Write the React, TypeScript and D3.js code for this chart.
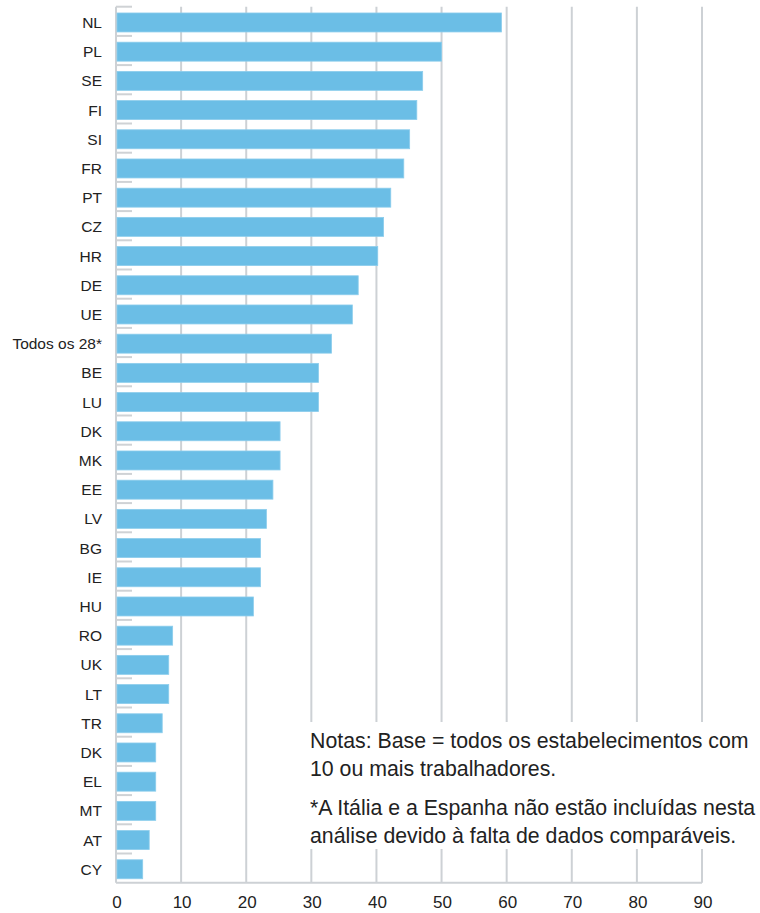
import React from "react";
import * as d3 from "d3";

const categories = ["NL","PL","SE","FI","SI","FR","PT","CZ","HR","DE","UE","Todos os 28*","BE","LU","DK","MK","EE","LV","BG","IE","HU","RO","UK","LT","TR","DK","EL","MT","AT","CY"];
const values = [59.2,50,47.1,46.2,45.1,44.2,42.2,41.1,40.2,37.2,36.3,33.1,31.1,31.1,25.2,25.2,24.1,23.1,22.2,22.2,21.1,8.7,8.1,8.1,7.1,6.1,6.1,6.1,5.1,4.1];
const xTicks = [0,10,20,30,40,50,60,70,80,90];
const noteLines = [
  "Notas: Base = todos os estabelecimentos com",
  "10 ou mais trabalhadores.",
  "*A Itália e a Espanha não estão incluídas nesta",
  "análise devido à falta de dados comparáveis.",
];

export default function App() {
  const W = 760, H = 913;
  const x = d3.scaleLinear().domain([0, 90]).range([116, 702]);
  const idx = categories.map((_, i) => i);
  const y = d3.scaleBand<number>().domain(idx).range([6.7, 882.7]).paddingInner(0).paddingOuter(0);
  const bw = y.bandwidth();
  const font = "'Liberation Sans', Arial, Helvetica, sans-serif";
  const grid = "#cdd1d5";
  const noteY = [748, 776, 815, 843];
  return (
    <svg width={W} height={H} style={{ position: "absolute", left: 0, top: 0, background: "#fff" }} fontFamily={font}>
      {xTicks.map((t) => (
        <line key={"g" + t} x1={x(t)} x2={x(t)} y1={6.7} y2={882.7} stroke={grid} strokeWidth={2} />
      ))}
      <line x1={x(0)} x2={x(90)} y1={882.7} y2={882.7} stroke={grid} strokeWidth={2} />
      {idx.map((i) => (
        <line key={"m" + i} x1={x(0)} x2={x(0) + 16} y1={(y(i) as number)} y2={(y(i) as number)} stroke="#cfd2d5" strokeWidth={2} />
      ))}
      {idx.map((i) => (
        <rect key={"b" + i} x={x(0) + 1} y={(y(i) as number) + bw * 0.215} width={x(values[i]) - x(0) - 1} height={bw * 0.65}
          fill="#6bbee6" stroke="#8ccdec" strokeWidth={0.8} />
      ))}
      {idx.map((i) => (
        <text key={"l" + i} x={102} y={(y(i) as number) + bw * 0.545} dy="0.35em" textAnchor="end" fontSize={15.5} fill="#222">
          {categories[i]}
        </text>
      ))}
      {xTicks.map((t) => (
        <text key={"t" + t} x={x(t) + 1} y={908} textAnchor="middle" fontSize={17} fill="#222">{t}</text>
      ))}
      <rect x={300} y={722} width={460} height={127} fill="#fff" />
      {noteLines.map((s, i) => (
        <text key={"n" + i} x={310} y={noteY[i]} fontSize={21.3} fill="#222">{s}</text>
      ))}
    </svg>
  );
}
